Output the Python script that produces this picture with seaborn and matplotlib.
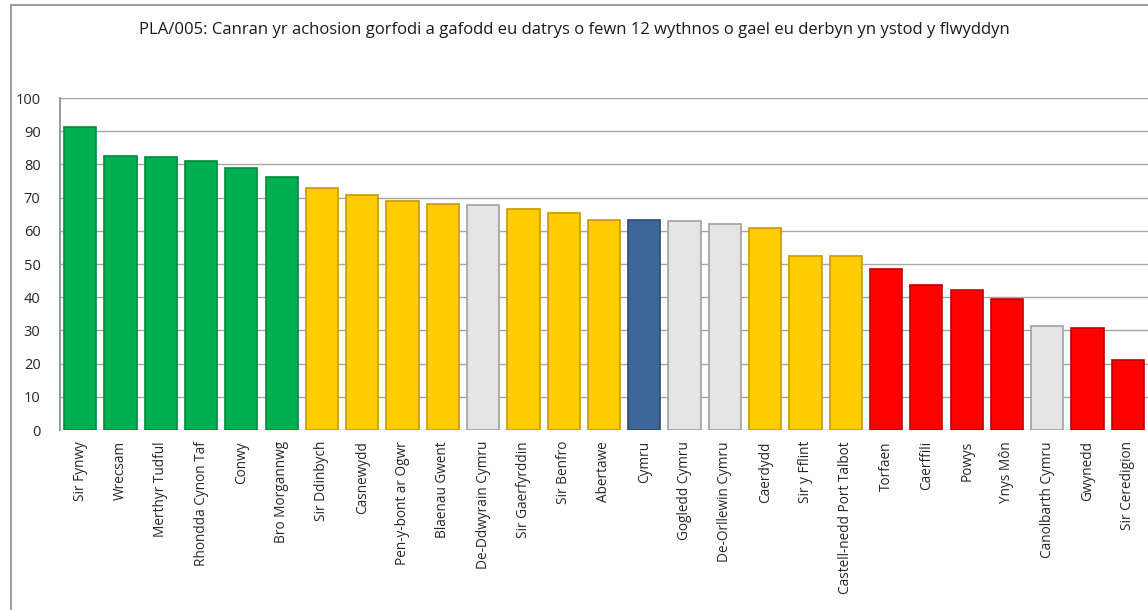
import matplotlib
matplotlib.use("Agg")
import matplotlib.pyplot as plt
import matplotlib.patches as mpatches
import pandas as pd
import seaborn as sns

areas = [
    "Sir Fynwy", "Wrecsam", "Merthyr Tudful", "Rhondda Cynon Taf", "Conwy",
    "Bro Morgannwg", "Sir Ddinbych", "Casnewydd", "Pen-y-bont ar Ogwr",
    "Blaenau Gwent", "De-Ddwyrain Cymru", "Sir Gaerfyrddin", "Sir Benfro",
    "Abertawe", "Cymru", "Gogledd Cymru", "De-Orllewin Cymru", "Caerdydd",
    "Sir y Fflint", "Castell-nedd Port Talbot", "Torfaen", "Caerffili",
    "Powys", "Ynys Môn", "Canolbarth Cymru", "Gwynedd", "Sir Ceredigion",
]
values = [
    91.3, 82.5, 82.2, 81.0, 78.9, 76.2, 72.9, 70.8, 69.0, 68.0, 67.8, 66.6,
    65.4, 63.2, 63.2, 63.0, 62.0, 60.8, 52.4, 52.4, 48.5, 43.7, 42.1, 39.4,
    31.3, 30.7, 21.0,
]
bands = [
    "green", "green", "green", "green", "green", "green", "amber", "amber",
    "amber", "amber", "region", "amber", "amber", "amber", "wales", "region",
    "region", "amber", "amber", "amber", "red", "red", "red", "red", "region",
    "red", "red",
]

band_fill = {"green": "#00b050", "amber": "#ffcc00", "region": "#e4e4e4",
             "wales": "#3d6699", "red": "#ff0000"}
band_edge = {"green": "#008a3e", "amber": "#c89a00", "region": "#a0a0a0",
             "wales": "#2a4a72", "red": "#c00000"}

df = pd.DataFrame({"area": areas, "value": values, "band": bands})

sns.set_theme(style="white")
plt.rcParams["font.family"] = ["Open Sans", "DejaVu Sans"]

fig = plt.figure(figsize=(11.48, 6.10), dpi=100)
ax = fig.add_axes([60 / 1148, 1 - 430 / 610, 1 - 60 / 1148, 332 / 610])

sns.barplot(data=df, x="area", y="value", hue="area",
            palette=[band_fill[b] for b in bands], saturation=1, width=0.8,
            legend=False, ax=ax, zorder=3)
for bar, b in zip(ax.patches, bands):
    bar.set_edgecolor(band_edge[b])
    bar.set_linewidth(1.2)

ax.set_ylim(0, 100)
ax.set_xlim(-0.5, len(areas) - 0.5)
ax.set_yticks(range(0, 101, 10))
ax.yaxis.grid(True, color="#a6a6a6", linewidth=1, zorder=0)
ax.xaxis.grid(False)
for side in ["top", "right", "bottom"]:
    ax.spines[side].set_visible(False)
ax.spines["left"].set_color("#8c8c8c")
ax.set_xlabel("")
ax.set_ylabel("")
ax.tick_params(axis="x", labelrotation=90, labelsize=9.8, length=0, pad=8,
               colors="#262626")
ax.tick_params(axis="y", labelsize=10.5, length=0, pad=14, colors="#262626")

fig.text(0.5, 1 - 30 / 610,
         "PLA/005: Canran yr achosion gorfodi a gafodd eu datrys o fewn 12 "
         "wythnos o gael eu derbyn yn ystod y flwyddyn",
         ha="center", va="center", fontsize=12, color="#1a1a1a")

fig.patches.append(mpatches.Rectangle(
    (11 / 1148, -0.1), 2, 1.1 - 5 / 610, transform=fig.transFigure,
    fill=False, edgecolor="#8c8c8c", linewidth=1.2))

fig.savefig("out.png", dpi=100, facecolor="white")
